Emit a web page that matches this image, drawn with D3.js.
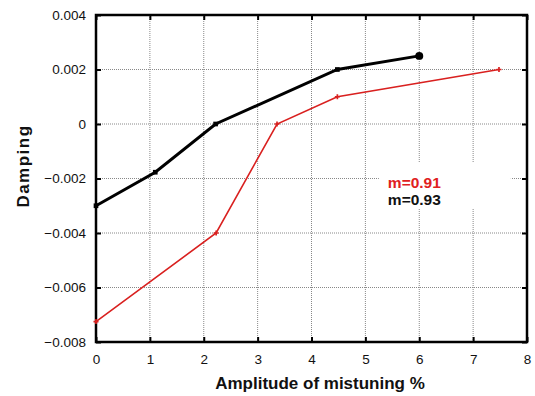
<!DOCTYPE html>
<html>
<head>
<meta charset="utf-8">
<script src="https://cdn.jsdelivr.net/npm/d3@7"></script>
<style>
  body { margin: 0; background: #fff; }
  text { font-family: "Liberation Sans", Arial, sans-serif; }
</style>
</head>
<body>
<div id="chart"></div>
<script>
// data
var blackX = [0, 1.1, 2.22, 4.48, 6.0];
var blackY = [-0.003, -0.00177, 0, 0.002, 0.0025];
var redX = [0, 2.23, 3.36, 4.48, 7.48];
var redY = [-0.00725, -0.004, 0, 0.001, 0.002];
var xTicks = [0, 1, 2, 3, 4, 5, 6, 7, 8];
var yTicks = [-0.008, -0.006, -0.004, -0.002, 0, 0.002, 0.004];
var legendLabels = ["m=0.91", "m=0.93"];

var svgWidth = 535;
var svgHeight = 396;
var margin = { top: 15, right: 8, bottom: 54, left: 96 };
var width = svgWidth - margin.left - margin.right;
var height = svgHeight - margin.top - margin.bottom;

var svg = d3.select("#chart")
  .append("svg")
  .attr("width", svgWidth)
  .attr("height", svgHeight);

var chartGroup = svg.append("g")
  .attr("transform", `translate(${margin.left}, ${margin.top})`);

var x = d3.scaleLinear().domain([0, 8]).range([0, width]);
var y = d3.scaleLinear().domain([-0.008, 0.004]).range([height, 0]);

// grid
chartGroup.append("g")
  .selectAll("line")
  .data(xTicks.slice(1, -1))
  .enter().append("line")
  .attr("x1", d => x(d)).attr("x2", d => x(d))
  .attr("y1", 0).attr("y2", height)
  .attr("stroke", "#888").attr("stroke-width", 1)
  .attr("stroke-dasharray", "1,1");
chartGroup.append("g")
  .selectAll("line")
  .data(yTicks.slice(1, -1))
  .enter().append("line")
  .attr("y1", d => y(d)).attr("y2", d => y(d))
  .attr("x1", 0).attr("x2", width)
  .attr("stroke", "#888").attr("stroke-width", 1)
  .attr("stroke-dasharray", "1,1");

// axes with inward ticks
var fmt = d => d === 0 ? "0" : d3.format(".3f")(d);
var bottomAxis = d3.axisBottom(x).tickValues(xTicks).tickSizeInner(-5).tickSizeOuter(0).tickPadding(12);
var leftAxis = d3.axisLeft(y).tickValues(yTicks).tickFormat(fmt).tickSizeInner(-5).tickSizeOuter(0).tickPadding(10);
var topAxis = d3.axisTop(x).tickValues(xTicks).tickSizeInner(-5).tickSizeOuter(0).tickFormat("");
var rightAxis = d3.axisRight(y).tickValues(yTicks).tickSizeInner(-5).tickSizeOuter(0).tickFormat("");

var gx = chartGroup.append("g").attr("transform", `translate(0, ${height})`).call(bottomAxis);
var gy = chartGroup.append("g").call(leftAxis);
var gt = chartGroup.append("g").call(topAxis);
var gr = chartGroup.append("g").attr("transform", `translate(${width}, 0)`).call(rightAxis);

[gx, gy, gt, gr].forEach(function(g) {
  g.select(".domain").remove();
  g.selectAll(".tick line").attr("stroke", "#000").attr("stroke-width", 2);
  g.selectAll(".tick text").attr("font-size", 13.5).attr("fill", "#111")
    .attr("font-family", "'Liberation Sans', Arial, sans-serif");
});

// frame
chartGroup.append("rect")
  .attr("width", width).attr("height", height)
  .attr("fill", "none").attr("stroke", "#000").attr("stroke-width", 2.5);

// legend box (white over grid)
var legend = chartGroup.append("g")
  .attr("transform", `translate(${x(5.25)}, ${y(-0.0014)})`);
legend.append("rect")
  .attr("width", x(7.7) - x(5.25))
  .attr("height", y(-0.0031) - y(-0.0014))
  .attr("fill", "#fff");
legend.selectAll("text")
  .data(legendLabels)
  .enter().append("text")
  .attr("x", 9)
  .attr("y", (d, i) => 26 + i * 17)
  .attr("font-size", 15.5)
  .attr("font-weight", "bold")
  .attr("fill", (d, i) => i === 0 ? "#e0201e" : "#111")
  .text(d => d);

// lines
var redData = redX.map((d, i) => [d, redY[i]]);
var blackData = blackX.map((d, i) => [d, blackY[i]]);
var line = d3.line().x(d => x(d[0])).y(d => y(d[1]));

chartGroup.append("path")
  .datum(redData)
  .attr("d", line)
  .attr("fill", "none")
  .attr("stroke", "#d9201f")
  .attr("stroke-width", 1.6);

chartGroup.append("path")
  .datum(blackData)
  .attr("d", line)
  .attr("fill", "none")
  .attr("stroke", "#000")
  .attr("stroke-width", 3);

// markers
chartGroup.selectAll(".redmark")
  .data(redData)
  .enter().append("path")
  .attr("class", "redmark")
  .attr("d", d3.symbol().type(d3.symbolCross).size(14))
  .attr("transform", d => `translate(${x(d[0])}, ${y(d[1])})`)
  .attr("fill", "#d9201f");

chartGroup.selectAll(".blackmark")
  .data(blackData)
  .enter().append("path")
  .attr("class", "blackmark")
  .attr("d", (d, i) => d3.symbol().type(i === blackData.length - 1 ? d3.symbolCircle : d3.symbolSquare).size(i === blackData.length - 1 ? 50 : 22)())
  .attr("transform", d => `translate(${x(d[0])}, ${y(d[1])})`)
  .attr("fill", "#000");

// axis labels
svg.append("text")
  .attr("x", 320)
  .attr("y", 389)
  .attr("text-anchor", "middle")
  .attr("font-size", 17)
  .attr("font-weight", "bold")
  .attr("fill", "#111")
  .text("Amplitude of mistuning %");

svg.append("text")
  .attr("transform", "translate(29, 166) rotate(-90)")
  .attr("text-anchor", "middle")
  .attr("font-size", 17)
  .attr("font-weight", "bold")
  .attr("letter-spacing", 1.5)
  .attr("fill", "#111")
  .text("Damping");
</script>
</body>
</html>
